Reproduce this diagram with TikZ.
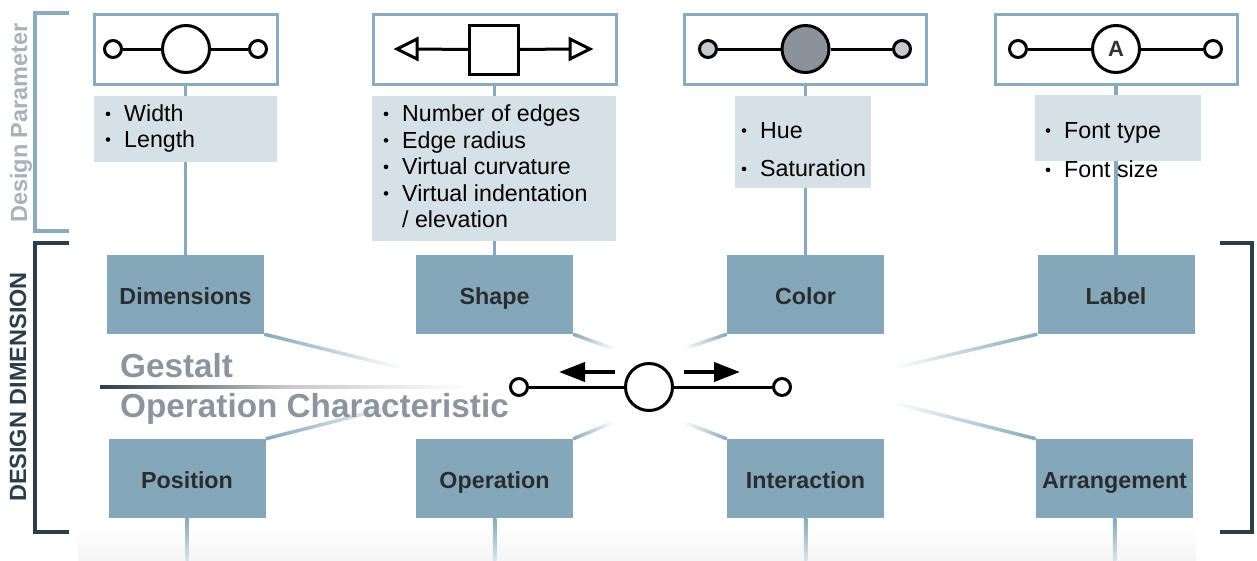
\documentclass[tikz,border=0pt]{standalone}
\usepackage{fontspec}
\setmainfont{Liberation Sans}
\usetikzlibrary{calc,arrows.meta}

\definecolor{boxblue}{HTML}{84A7BA}
\definecolor{parfill}{HTML}{D5E1E7}
\definecolor{frameblue}{HTML}{8AABBD}
\definecolor{linkblue}{HTML}{88A9BC}
\definecolor{labeltext}{HTML}{2A2D30}
\definecolor{dimdark}{HTML}{2C3E49}
\definecolor{softgray}{HTML}{8C949E}
\definecolor{paramgray}{HTML}{A8B2BB}
\definecolor{lightdot}{HTML}{C6C9CD}
\definecolor{darkdot}{HTML}{8B929C}

\pgfdeclarelayer{bg}
\pgfsetlayers{bg,main}

% a connector that fades out towards its second end (optional: middle colour)
\newcommand\ray[3][linkblue!75]{%
  \path let \p1=($(#3)-(#2)$) in \pgfextra{%
    \pgfmathsetmacro\ra{atan2(\y1,\x1)}%
    \pgfmathsetmacro\rl{veclen(\x1,\y1)}%
    \xdef\rayang{\ra}\xdef\raylen{\rl}};
  \begin{scope}[transform canvas={shift={(#2)}, rotate=\rayang}]
    \shade[left color=linkblue, middle color=#1, right color=white]
      (0pt,-1.75pt) rectangle (\raylen pt,1.75pt);
  \end{scope}}

% one bulleted line of a parameter list: name, x of text, baseline y, text
\newcommand\parline[4]{%
  \node[bulletdot] (#1b) at (#2-16,#3-7.8) {};
  \node[partext] (#1) at (#2,#3) {#4};}

\tikzset{
  dimbox/.style={fill=boxblue, minimum width=157pt, minimum height=79pt,
    inner sep=0, text height=19pt, text depth=0pt,
    font=\fontsize{23.3}{23.3}\selectfont\bfseries, text=labeltext},
  iconframe/.style={draw=frameblue, line width=3pt, fill=white, inner sep=0,
    minimum height=70pt},
  parbox/.style={fill=parfill, inner sep=0},
  partext/.style={anchor=base west, inner sep=0,
    font=\fontsize{23.2}{23.2}\selectfont, text=black},
  bulletdot/.style={circle, fill=black, minimum size=4.6pt, inner sep=0},
  knob/.style={circle, draw=black, line width=3pt, fill=white, inner sep=0,
    minimum size=17pt},
  hubdot/.style={circle, draw=black, line width=3pt, fill=white, inner sep=0,
    minimum size=47pt},
  glyph/.style={draw=black, line width=3pt},
  link/.style={draw=linkblue, line width=3.5pt},
  bigword/.style={anchor=base west, inner sep=0,
    font=\fontsize{33.3}{33.3}\selectfont\bfseries, text=softgray},
}

\begin{document}
\begin{tikzpicture}[x=1pt, y=-1pt]
\useasboundingbox (0,0) rectangle (1257,560);

% ---------- icon frames ----------
\node[iconframe, minimum width=183pt] (f1) at (185.5,49) {};
\node[iconframe, minimum width=243pt] (f2) at (494.5,49) {};
\node[iconframe, minimum width=242pt] (f3) at (805.5,49) {};
\node[iconframe, minimum width=242pt] (f4) at (1116,49) {};

% ---------- parameter panels ----------
\node[parbox, minimum width=183pt, minimum height=66pt] (p1) at (185.5,129) {};
\node[parbox, minimum width=244pt, minimum height=145pt] (p2) at (494,168.5) {};
\node[parbox, minimum width=136pt, minimum height=92pt] (p3) at (803,142) {};
\node[parbox, minimum width=166pt, minimum height=66pt] (p4) at (1118,128) {};

% ---------- dimension boxes ----------
\node[dimbox] (dim) at (185.5,294.5) {Dimensions};
\node[dimbox] (sha) at (494.5,294.5) {Shape};
\node[dimbox] (col) at (805.5,294.5) {Color};
\node[dimbox] (lab) at (1116,294.5) {Label};
\node[dimbox] (pos) at (187,478.5) {Position};
\node[dimbox] (ope) at (494.5,478.5) {Operation};
\node[dimbox] (int) at (805.5,478.5) {Interaction};
\node[dimbox] (arr) at (1114.5,478.5) {Arrangement};

% free ends of the fading connectors
\coordinate (g1) at (405,369);
\coordinate (g2) at (614,349);
\coordinate (g3) at (683,349);
\coordinate (g4) at (890,369);
\coordinate (g5) at (407,403);
\coordinate (g6) at (614,422);
\coordinate (g7) at (683,422);
\coordinate (g8) at (890,402);
\coordinate (e1) at (187,580);
\coordinate (e2) at (494.5,580);
\coordinate (e3) at (805.5,580);
\coordinate (e4) at (1114.5,580);

\begin{pgfonlayer}{bg}
  % soft floor under the lower row
  \shade[top color=white, bottom color=black!4] (78,526) rectangle (1196,560);
  % vertical links
  \draw[link] (f1.south) -- (dim.north);
  \draw[link] (f2.south) -- (sha.north);
  \draw[link] (f3.south) -- (col.north);
  \draw[link] (f4.south) -- (lab.north);
  \ray[linkblue!85]{pos.south}{e1}
  \ray[linkblue!85]{ope.south}{e2}
  \ray[linkblue!85]{int.south}{e3}
  \ray[linkblue!85]{arr.south}{e4}
  % rays towards the centre
  \ray{dim.south east}{g1}
  \ray{sha.south east}{g2}
  \ray{col.south west}{g3}
  \ray{lab.south west}{g4}
  \ray{pos.north east}{g5}
  \ray{ope.north east}{g6}
  \ray{int.north west}{g7}
  \ray{arr.north west}{g8}
  % divider between the two groups
  \shade[left color=dimdark, right color=white, middle color=black!22]
    (100,385.6) rectangle (470,388.4);
\end{pgfonlayer}

% ---------- icons ----------
% width / length
\node[knob] (k1l) at (113,49) {};
\node[hubdot] (k1c) at (186,49) {};
\node[knob] (k1r) at (258,49) {};
\draw[glyph] (k1l.east) -- (k1c.west) (k1c.east) -- (k1r.west);
% shape
\node[draw=black, line width=3pt, fill=white, minimum size=49pt, inner sep=0]
  (sq) at (494,49.5) {};
\draw[glyph, fill=white, line join=miter] (417,39) -- (397,49) -- (417,59) -- cycle;
\draw[glyph, fill=white, line join=miter] (570,39) -- (590,49) -- (570,59) -- cycle;
\draw[glyph] (417,49) -- (sq.west) (sq.east) -- (570,49);
% colour
\node[knob, fill=lightdot] (k3l) at (708,49) {};
\node[hubdot, fill=darkdot] (k3c) at (805.5,49) {};
\node[knob, fill=lightdot] (k3r) at (902,49) {};
\draw[glyph] (k3l.east) -- (k3c.west) (k3c.east) -- (k3r.west);
% label
\node[knob] (k4l) at (1018,49) {};
\node[hubdot, font=\fontsize{22}{22}\selectfont\bfseries, text=black!80] (k4c)
  at (1116,49) {A};
\node[knob] (k4r) at (1213,49) {};
\draw[glyph] (k4l.east) -- (k4c.west) (k4c.east) -- (k4r.west);

% ---------- parameter lists ----------
\parline{w1}{124}{121.7}{Width}
\parline{w2}{124}{147.3}{Length}
\parline{s1}{402}{121.7}{Number of edges}
\parline{s2}{402}{148.2}{Edge radius}
\parline{s3}{402}{174.7}{Virtual curvature}
\parline{s4}{402}{201.2}{Virtual indentation}
\node[partext] (s5) at (402,227.7) {/ elevation};
\parline{c1}{760}{138.3}{Hue}
\parline{c2}{760}{176.7}{Saturation}
\parline{l1}{1064}{138.3}{Font type}
\parline{l2}{1064}{177.7}{Font size}

% ---------- brackets ----------
\draw[frameblue, line width=3.5pt] (69,13) -- (35,13) -- (35,231) -- (69,231);
\draw[dimdark, line width=4pt] (69,243) -- (35,243) -- (35,532) -- (69,532);
\draw[dimdark, line width=4pt] (1220,243) -- (1252,243) -- (1252,532) -- (1220,532);
\node[rotate=90, inner sep=0, font=\fontsize{23.5}{23.5}\selectfont\bfseries,
  text=paramgray] (dp) at (21,123) {Design Parameter};
\node[rotate=90, inner sep=0, font=\fontsize{23.5}{23.5}\selectfont\bfseries,
  text=dimdark] (dd) at (18,387) {DESIGN DIMENSION};

% ---------- centre element ----------
\node[knob] (hl) at (519,387) {};
\node[hubdot] (hub) at (649,387) {};
\node[knob] (hr) at (782,387) {};
\draw[glyph] (hl.east) -- (hub.west) (hub.east) -- (hr.west);
\coordinate (al0) at (615,372);
\coordinate (al1) at (559,372);
\coordinate (ar0) at (684,372);
\coordinate (ar1) at (740,372);
\draw[line width=4pt, -{Triangle[length=26pt, width=19pt]}] (al0) -- (al1);
\draw[line width=4pt, -{Triangle[length=26pt, width=19pt]}] (ar0) -- (ar1);

\node[bigword] (ge) at (120,377) {Gestalt};
\node[bigword] (oc) at (120,417) {Operation Characteristic};
\end{tikzpicture}
\end{document}
